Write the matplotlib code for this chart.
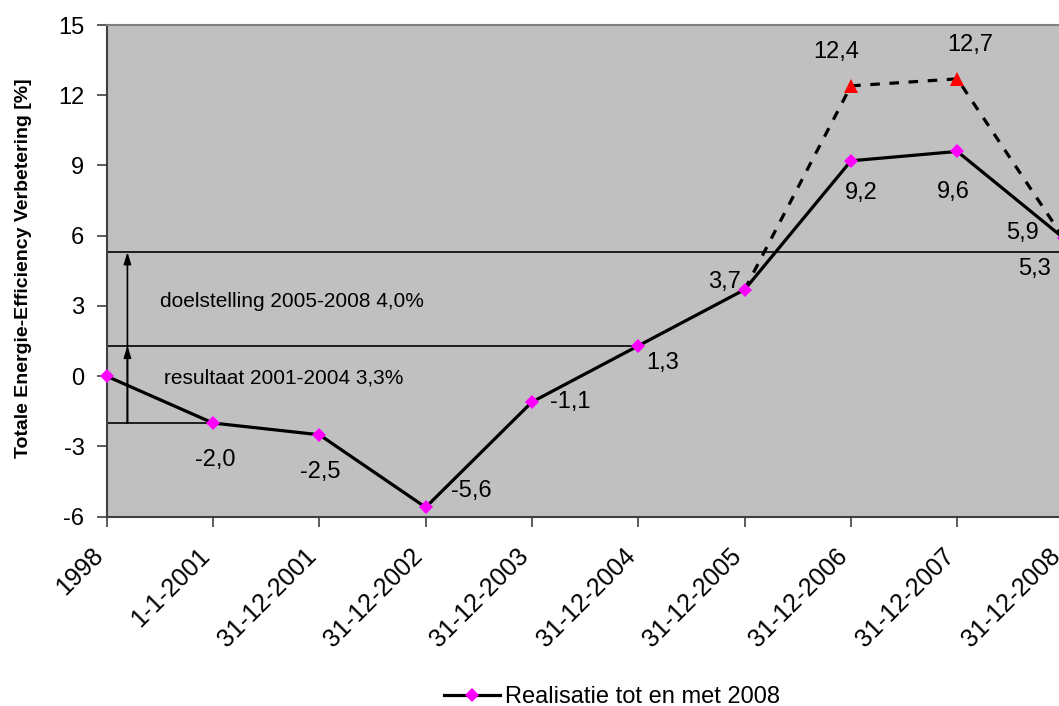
import matplotlib
matplotlib.use("Agg")
import matplotlib.pyplot as plt
import matplotlib.transforms as mtransforms

plt.rcParams['font.family'] = ['Liberation Sans', 'DejaVu Sans']

categories = ['1998', '1-1-2001', '31-12-2001', '31-12-2002', '31-12-2003',
              '31-12-2004', '31-12-2005', '31-12-2006', '31-12-2007', '31-12-2008']
realisatie = [0.0, -2.0, -2.5, -5.6, -1.1, 1.3, 3.7, 9.2, 9.6, 5.9]
prognose_idx = [6, 7, 8, 9]
prognose = [3.7, 12.4, 12.7, 5.9]

start_level = -2.0      # stand 1-1-2001
resultaat_level = 1.3   # stand 31-12-2004
doel_level = 5.3        # doel 31-12-2008
yticks = [-6, -3, 0, 3, 6, 9, 12, 15]

W, H = 1059, 706
fig = plt.figure(figsize=(W / 100, H / 100), dpi=100)
left_px, right_px, top_px, bot_px = 106.7, 1063.6, 25.0, 516.7
ax_w, ax_h = right_px - left_px, bot_px - top_px
ax = fig.add_axes([left_px / W, 1 - bot_px / H, ax_w / W, ax_h / H])
ax.set_facecolor('#C0C0C0')

x = list(range(len(categories)))
FS = 17

# reference levels
ax.plot([0, 1], [start_level, start_level], color='black', lw=1.2, zorder=2)
ax.plot([0, 5], [resultaat_level, resultaat_level], color='black', lw=1.2, zorder=2)
ax.plot([0, 9], [doel_level, doel_level], color='black', lw=1.2, zorder=2)

arrow_x = 0.195
arrowprops = dict(arrowstyle='-|>,head_length=0.7,head_width=0.22', color='black', lw=1.2,
                  shrinkA=0, shrinkB=0)
ax.annotate('', xy=(arrow_x, doel_level), xytext=(arrow_x, start_level), arrowprops=arrowprops, zorder=3)
ax.annotate('', xy=(arrow_x, resultaat_level), xytext=(arrow_x, start_level), arrowprops=arrowprops, zorder=3)

ax.text(0.50, 3.18, 'doelstelling 2005-2008 4,0%', fontsize=15, ha='left', va='center')
ax.text(0.54, -0.06, 'resultaat 2001-2004 3,3%', fontsize=15, ha='left', va='center')

# forecast (dashed) series
ax.plot(prognose_idx, prognose, color='black', lw=2.3, ls=(0, (3, 3)), zorder=4)
ax.plot(prognose_idx[1:3], prognose[1:3], ls='none', marker='^', ms=10, color='#FF0000',
        markeredgewidth=0, zorder=5)

# realised series
ax.plot(x, realisatie, color='black', lw=2.3, marker='D', ms=7, markerfacecolor='#FF00FF',
        markeredgewidth=0, zorder=6, label='Realisatie tot en met 2008', clip_on=False)

def fmt(v):
    return f'{v:.1f}'.replace('.', ',')

real_offsets = {1: (2, -37), 2: (1, -37), 3: (46, 16), 4: (38, 0), 5: (24, -17),
                6: (-20, 8), 7: (10, -32), 8: (-4, -41), 9: (-41, 5)}
for i, (dx, dy) in real_offsets.items():
    ax.annotate(fmt(realisatie[i]), (x[i], realisatie[i]), xytext=(dx, dy),
                textcoords='offset pixels', ha='center', va='center', fontsize=FS, zorder=7)

prog_offsets = {7: (-15, 34), 8: (13, 34)}
for j, i in enumerate(prognose_idx):
    if i in prog_offsets:
        dx, dy = prog_offsets[i]
        ax.annotate(fmt(prognose[j]), (i, prognose[j]), xytext=(dx, dy),
                    textcoords='offset pixels', ha='center', va='center', fontsize=FS, zorder=7)

ax.annotate(fmt(doel_level), (9, doel_level), xytext=(-29, -17), textcoords='offset pixels',
            ha='center', va='center', fontsize=FS, zorder=7)

ax.set_xlim(0, 9)
ax.set_ylim(-6, 15)
ax.set_yticks(yticks)
ax.set_yticklabels([str(t) for t in yticks], fontsize=FS)
ax.set_xticks(x)
ax.set_xticklabels(categories, fontsize=18, rotation=45, ha='right', va='center',
                   rotation_mode='anchor')
ax.tick_params(axis='both', direction='out', length=7, width=1.2, color='#404040')
ax.tick_params(axis='y', pad=9)
ax.tick_params(axis='x', pad=12)

# shift the slanted category labels slightly left and down
shift = mtransforms.ScaledTranslation(-7 / 100, -9 / 100, fig.dpi_scale_trans)
for lbl in ax.get_xticklabels():
    lbl.set_transform(lbl.get_transform() + shift)

for side in ['left', 'bottom']:
    ax.spines[side].set_color('#404040')
    ax.spines[side].set_linewidth(1.5)
ax.spines['top'].set_color('#808080')
ax.spines['top'].set_linewidth(1.5)
ax.spines['right'].set_visible(False)

ax.set_ylabel('Totale Energie-Efficiency Verbetering [%]', fontsize=14, fontweight='bold')
ax.yaxis.set_label_coords(-(left_px - 32) / ax_w, (bot_px - 268) / ax_h)

handles, labels = ax.get_legend_handles_labels()
fig.legend(handles, labels, loc='center', bbox_to_anchor=(612 / W, 1 - 697 / H), frameon=False,
           fontsize=FS, handlelength=2.4, handletextpad=0.2, borderpad=0)

fig.savefig('out.png', dpi=100)
